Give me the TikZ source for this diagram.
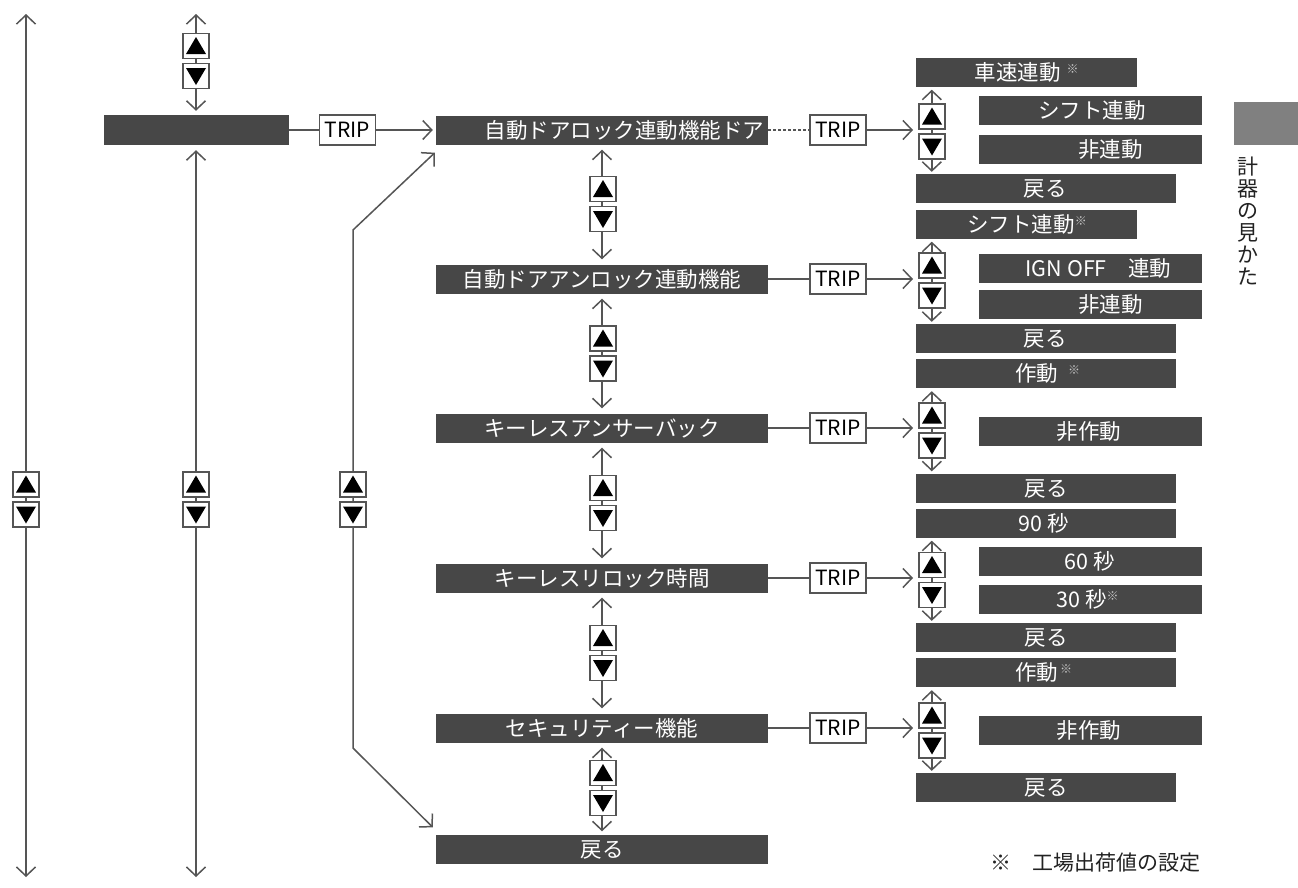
\documentclass[tikz,border=0pt]{standalone}
\usepackage{fontspec}
\setmainfont{Noto Sans CJK JP}
\usetikzlibrary{arrows.meta}
\definecolor{barc}{HTML}{474747}
\definecolor{lc}{HTML}{555555}
\definecolor{tabc}{HTML}{808080}
\definecolor{notec}{HTML}{C8C8C8}
\definecolor{txc}{HTML}{222222}
\newcommand\bfnt{\fontsize{21.5}{24}\selectfont}
\newcommand\kome{\raisebox{7pt}{\fontsize{12}{12}\selectfont\color{notec}※}}
\newcommand\mkbar[6]{\node[barbox,minimum width=#4pt] (#1) at (#2,#3) {};
  \node[bartxt] (#1t) at (#5,#3) {#6};}
\newcommand\mkbtns[3]{\node[upbtn] (#1u) at (#2,#3-15) {};
  \node[dnbtn] (#1d) at (#2,#3+15) {};}
\begin{document}
\begin{tikzpicture}[x=1pt,y=-1pt,
  ln/.style={draw=lc,line width=1.5pt},
  arr/.style={ln,-{Straight Barb[length=9pt,width=19pt]}},
  darr/.style={ln,{Straight Barb[length=9pt,width=19pt]}-{Straight Barb[length=9pt,width=19pt]}},
  barbox/.style={rectangle,fill=barc,inner sep=0pt,minimum height=29pt},
  bartxt/.style={text=white,font=\bfnt,inner sep=0pt,text height=18pt,text depth=2pt},
  btn/.style={rectangle,draw=lc,fill=white,line width=1.4pt,minimum width=26pt,minimum height=25pt,inner sep=0pt},
  upbtn/.style={btn,path picture={\fill[black] ([shift={(-10,8)}]path picture bounding box.center) -- ([shift={(10,8)}]path picture bounding box.center) -- ([shift={(0,-9)}]path picture bounding box.center) -- cycle;}},
  dnbtn/.style={btn,path picture={\fill[black] ([shift={(-10,-8)}]path picture bounding box.center) -- ([shift={(10,-8)}]path picture bounding box.center) -- ([shift={(0,9)}]path picture bounding box.center) -- cycle;}},
  trip/.style={rectangle,draw=lc,fill=white,line width=1.4pt,minimum width=56pt,minimum height=30pt,inner sep=0pt,font=\fontsize{21}{24}\selectfont,text=black}
]
\useasboundingbox[fill=white] (0,0) rectangle (1298,887);

% ---------- main column bars ----------
\node[barbox,minimum width=185pt,minimum height=30pt] (m0) at (196,130) {};
\mkbar{m1}{602}{130}{332}{624.5}{自動ドアロック連動機能ドア}
\mkbar{m2}{602}{279}{332}{602}{自動ドアアンロック連動機能}
\mkbar{m3}{602}{428}{332}{602}{キーレスアンサーバック}
\mkbar{m4}{602}{578}{332}{602}{キーレスリロック時間}
\mkbar{m5}{602}{728}{332}{602}{セキュリティー機能}
\mkbar{m6}{602}{849}{332}{602}{戻る}

% ---------- TRIP boxes ----------
\node[trip] (tr0) at (347.5,130) {TRIP};
\node[trip] (tr1) at (838,130) {TRIP};
\node[trip] (tr2) at (838,279) {TRIP};
\node[trip] (tr3) at (838,428) {TRIP};
\node[trip] (tr4) at (838,578) {TRIP};
\node[trip] (tr5) at (838,728) {TRIP};

% ---------- right column bars ----------
% group 1
\mkbar{r11}{1026.5}{72}{221}{1017.5}{車速連動\rlap{\hspace{6pt}\kome}}
\mkbar{r12}{1090.5}{110.5}{223}{1092}{シフト連動}
\mkbar{r13}{1090.5}{149.5}{223}{1110.5}{非連動}
\mkbar{r14}{1046}{188.5}{260}{1045}{戻る}
% group 2
\mkbar{r21}{1026.5}{224}{221}{1021}{シフト連動\rlap{\kome}}
\mkbar{r22}{1090.5}{268}{223}{1098.5}{IGN OFF　連動}
\mkbar{r23}{1090.5}{304.5}{223}{1110.5}{非連動}
\mkbar{r24}{1046}{338.5}{260}{1045}{戻る}
% group 3
\mkbar{r31}{1046}{373.5}{260}{1036.5}{作動\rlap{\hspace{10pt}\kome}}
\mkbar{r32}{1090.5}{431}{223}{1089}{非作動}
\mkbar{r33}{1046}{488}{260}{1046}{戻る}
% group 4
\mkbar{r41}{1046}{523}{260}{1043.5}{90 秒}
\mkbar{r42}{1090.5}{561.5}{223}{1090}{60 秒}
\mkbar{r43}{1090.5}{599.5}{223}{1081.5}{30 秒\rlap{\kome}}
\mkbar{r44}{1046}{637.5}{260}{1046}{戻る}
% group 5
\mkbar{r51}{1046}{672.5}{260}{1036.5}{作動\rlap{\hspace{2pt}\kome}}
\mkbar{r52}{1090.5}{730}{223}{1089}{非作動}
\mkbar{r53}{1046}{787.5}{260}{1046}{戻る}

% ---------- free ends ----------
\coordinate (t1) at (26,14);
\coordinate (b1) at (26,877);
\coordinate (t2) at (196,14);
\coordinate (b2) at (196,877);
\coordinate (k1) at (353,230);
\coordinate (k2) at (353,748);
\coordinate (e1) at (913,130);
\coordinate (e2) at (913,279);
\coordinate (e3) at (913,428);
\coordinate (e4) at (913,578);
\coordinate (e5) at (913,728);

% ---------- connectors ----------
\draw[darr] (t1) -- (b1);
\draw[darr,shorten >=4pt] (t2) -- (m0.north);
\draw[darr,shorten <=5pt] (m0.south) -- (b2);
\draw[darr] ([shift={(-1,8)}]m1.south west) -- (k1) -- (k2) -- ([shift={(-3,-7)}]m6.north west);

\draw[ln] (m0.east) -- (tr0.west);
\draw[arr,shorten >=3pt] (tr0.east) -- (m1.west);
\draw[ln,dash pattern=on 3pt off 2pt] (m1.east) -- (tr1.west);
\draw[arr] (tr1.east) -- (e1);
\foreach \i in {2,...,5}{
  \draw[ln] (m\i.east) -- (tr\i.west);
  \draw[arr] (tr\i.east) -- (e\i);
}
\draw[darr,shorten <=5pt,shorten >=5pt] (m1.south) -- (m2.north);
\draw[darr,shorten <=5pt,shorten >=5pt] (m2.south) -- (m3.north);
\draw[darr,shorten <=5pt,shorten >=5pt] (m3.south) -- (m4.north);
\draw[darr,shorten <=5pt,shorten >=5pt] (m4.south) -- (m5.north);
\draw[darr,shorten <=5pt,shorten >=3pt] (m5.south) -- (m6.north);

\draw[darr,shorten <=3pt,shorten >=2pt] ([xshift=16pt]r11.south west) -- ([xshift=16pt]r14.north west);
\draw[darr,shorten <=3pt,shorten >=2pt] ([xshift=16pt]r21.south west) -- ([xshift=16pt]r24.north west);
\draw[darr,shorten <=3pt,shorten >=2pt] ([xshift=16pt]r31.south west) -- ([xshift=16pt]r33.north west);
\draw[darr,shorten <=3pt,shorten >=2pt] ([xshift=16pt]r41.south west) -- ([xshift=16pt]r44.north west);
\draw[darr,shorten <=3pt,shorten >=2pt] ([xshift=16pt]r51.south west) -- ([xshift=16pt]r53.north west);

% ---------- up/down buttons ----------
\mkbtns{bl}{26}{499.5}
\mkbtns{bt}{196}{61}
\mkbtns{bm}{196}{499.5}
\mkbtns{bk}{353}{499.5}
\mkbtns{c1}{603}{204}
\mkbtns{c2}{603}{353.5}
\mkbtns{c3}{603}{503}
\mkbtns{c4}{603}{653}
\mkbtns{c5}{603}{788}
\mkbtns{g1}{932}{131.5}
\mkbtns{g2}{932}{280.5}
\mkbtns{g3}{932}{430.5}
\mkbtns{g4}{932}{580}
\mkbtns{g5}{932}{730.5}

% ---------- side tab and note ----------
\node[rectangle,fill=tabc,inner sep=0pt,minimum width=64pt,minimum height=43pt,anchor=north west] (tab) at (1234,102) {};
\node[align=center,inner sep=0pt,text=txc,font=\fontsize{21}{22}\selectfont] (tabtxt) at (1248,221) {計\\器\\の\\見\\か\\た};
\node[anchor=west,inner sep=0pt,text=txc,font=\fontsize{21}{24}\selectfont] (note) at (990,863) {※　工場出荷値の設定};
\end{tikzpicture}
\end{document}
